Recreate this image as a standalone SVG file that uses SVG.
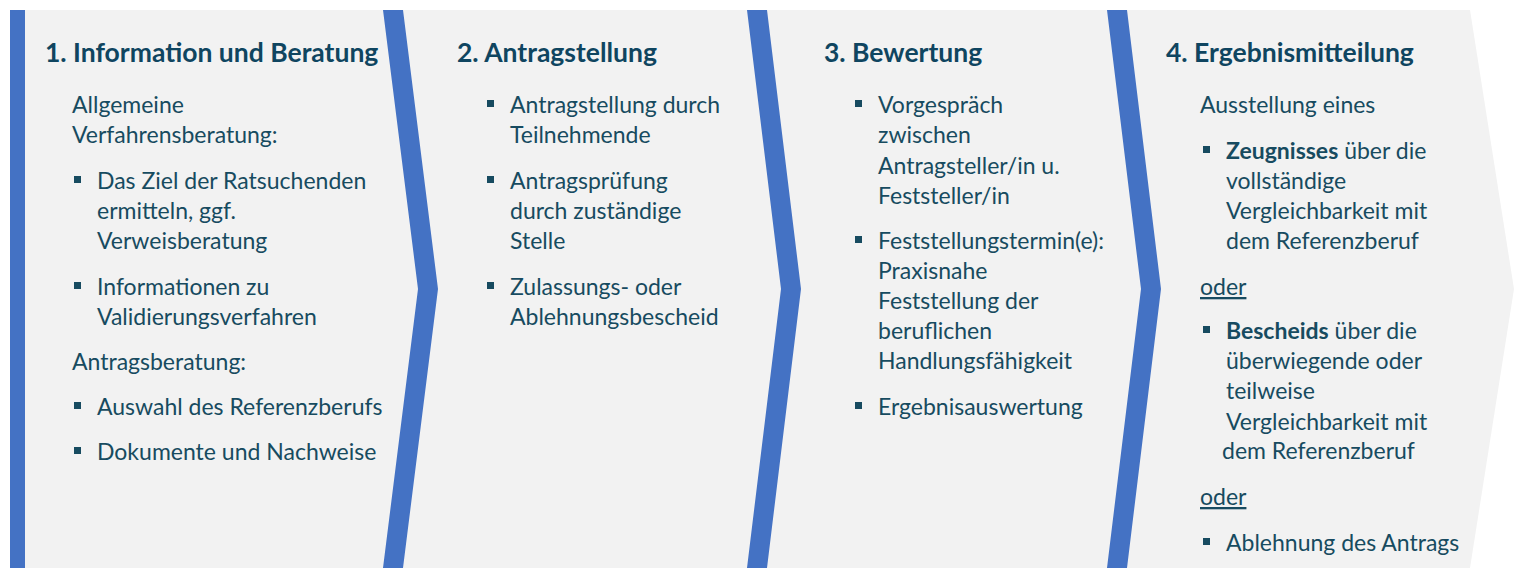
<svg xmlns="http://www.w3.org/2000/svg" width="1520" height="577" viewBox="0 0 1520 577">
<style>
  text { font-family: Lato, "Open Sans", "Liberation Sans", sans-serif; fill: #174b60; }
  .t { font-size: 26.5px; font-weight: bold; fill: #0f4560; }
  .b { font-size: 23px; }
  .bold { font-weight: bold; }
  .u { text-decoration: underline; }
  .stripe { fill: #4472c4; }
  .bul { fill: #174b60; }
</style>
<rect width="1520" height="577" fill="#ffffff"/>
<polygon points="10,10 1470,10 1514,289 1470,568 10,568" fill="#f2f2f2"/>
<g id="separators">
  <rect x="10" y="10" width="15" height="558" class="stripe"/>
  <polygon class="stripe" points="383,10 403,10 438,289 403,568 383,568 418,289"/>
  <polygon class="stripe" points="747,10 767,10 801,289 767,568 747,568 781,289"/>
  <polygon class="stripe" points="1107,10 1127,10 1161,289 1127,568 1107,568 1141,289"/>
</g>
<g id="step1">
  <text class="t" x="45" y="62">1. Information und Beratung</text>
  <text class="b" x="72" y="113">Allgemeine</text>
  <text class="b" x="72" y="143">Verfahrensberatung:</text>
  <rect class="bul" x="74" y="176" width="7" height="7"/>
  <text class="b" x="97" y="189">Das Ziel der Ratsuchenden</text>
  <text class="b" x="97" y="219">ermitteln, ggf.</text>
  <text class="b" x="97" y="249">Verweisberatung</text>
  <rect class="bul" x="74" y="282" width="7" height="7"/>
  <text class="b" x="97" y="295">Informationen zu</text>
  <text class="b" x="97" y="325">Validierungsverfahren</text>
  <text class="b" x="72" y="370">Antragsberatung:</text>
  <rect class="bul" x="74" y="402" width="7" height="7"/>
  <text class="b" x="97" y="415">Auswahl des Referenzberufs</text>
  <rect class="bul" x="74" y="447" width="7" height="7"/>
  <text class="b" x="97" y="460">Dokumente und Nachweise</text>
</g>
<g id="step2">
  <text class="t" x="457" y="62">2. Antragstellung</text>
  <rect class="bul" x="487" y="100" width="7" height="7"/>
  <text class="b" x="510" y="113">Antragstellung durch</text>
  <text class="b" x="510" y="143">Teilnehmende</text>
  <rect class="bul" x="487" y="176" width="7" height="7"/>
  <text class="b" x="510" y="189">Antragsprüfung</text>
  <text class="b" x="510" y="219">durch zuständige</text>
  <text class="b" x="510" y="249">Stelle</text>
  <rect class="bul" x="487" y="282" width="7" height="7"/>
  <text class="b" x="510" y="295">Zulassungs- oder</text>
  <text class="b" x="510" y="325">Ablehnungsbescheid</text>
</g>
<g id="step3">
  <text class="t" x="824" y="62">3. Bewertung</text>
  <rect class="bul" x="855" y="100" width="7" height="7"/>
  <text class="b" x="878" y="113">Vorgespräch</text>
  <text class="b" x="878" y="143">zwischen</text>
  <text class="b" x="878" y="174">Antragsteller/in u.</text>
  <text class="b" x="878" y="204">Feststeller/in</text>
  <rect class="bul" x="855" y="236" width="7" height="7"/>
  <text class="b" x="878" y="249">Feststellungstermin(e):</text>
  <text class="b" x="878" y="279">Praxisnahe</text>
  <text class="b" x="878" y="309">Feststellung der</text>
  <text class="b" x="878" y="339">beruflichen</text>
  <text class="b" x="878" y="369">Handlungsfähigkeit</text>
  <rect class="bul" x="855" y="402" width="7" height="7"/>
  <text class="b" x="878" y="415">Ergebnisauswertung</text>
</g>
<g id="step4">
  <text class="t" x="1166" y="62">4. Ergebnismitteilung</text>
  <text class="b" x="1200" y="113">Ausstellung eines</text>
  <rect class="bul" x="1203" y="146" width="7" height="7"/>
  <text class="b" x="1226" y="159"><tspan class="bold">Zeugnisses</tspan> über die</text>
  <text class="b" x="1226" y="189">vollständige</text>
  <text class="b" x="1226" y="219">Vergleichbarkeit mit</text>
  <text class="b" x="1226" y="249">dem Referenzberuf</text>
  <text class="b u" x="1200" y="295">oder</text>
  <rect class="bul" x="1203" y="326" width="7" height="7"/>
  <text class="b" x="1226" y="339"><tspan class="bold">Bescheids</tspan> über die</text>
  <text class="b" x="1226" y="369">überwiegende oder</text>
  <text class="b" x="1226" y="399">teilweise</text>
  <text class="b" x="1226" y="430">Vergleichbarkeit mit</text>
  <text class="b" x="1222" y="459">dem Referenzberuf</text>
  <text class="b u" x="1200" y="505">oder</text>
  <rect class="bul" x="1203" y="538" width="7" height="7"/>
  <text class="b" x="1226" y="551">Ablehnung des Antrags</text>
</g>
</svg>
